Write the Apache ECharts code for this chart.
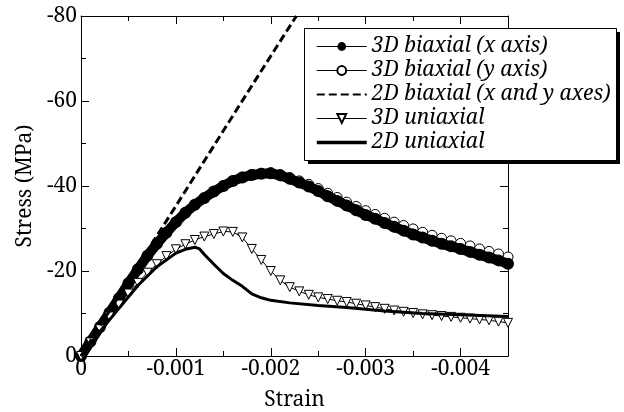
<!DOCTYPE html>
<html>
<head>
<meta charset="utf-8">
<script src="https://cdn.jsdelivr.net/npm/echarts@6/dist/echarts.min.js"></script>
<style>html,body{margin:0;padding:0;background:#fff}#c{width:624px;height:412px}</style>
</head>
<body>
<div id="c"></div>
<script>
// strain steps for 3D series (compressive, negative)
var strain3D = [0,-0.0001,-0.0002,-0.0003,-0.0004,-0.0005,-0.0006,-0.0007,-0.0008,-0.0009,
  -0.0010,-0.0011,-0.0012,-0.0013,-0.0014,-0.0015,-0.0016,-0.0017,-0.0018,-0.0019,
  -0.0020,-0.0021,-0.0022,-0.0023,-0.0024,-0.0025,-0.0026,-0.0027,-0.0028,-0.0029,
  -0.0030,-0.0031,-0.0032,-0.0033,-0.0034,-0.0035,-0.0036,-0.0037,-0.0038,-0.0039,
  -0.0040,-0.0041,-0.0042,-0.0043,-0.0044,-0.0045];
var biaxX3D = [0,-3.4,-6.8,-10.2,-13.6,-17.1,-20.4,-23.6,-26.4,-29.0,
  -31.5,-33.7,-35.6,-37.2,-38.7,-40.0,-41.2,-42.0,-42.6,-42.9,
  -43.0,-42.5,-41.7,-40.8,-39.9,-38.8,-37.6,-36.5,-35.4,-34.3,
  -33.2,-32.3,-31.3,-30.4,-29.5,-28.6,-27.9,-27.1,-26.4,-25.8,
  -25.2,-24.5,-23.8,-23.2,-22.5,-21.7];
var biaxY3D = [0,-3.4,-6.8,-10.2,-13.6,-17.1,-20.4,-23.6,-26.4,-29.0,
  -31.5,-33.7,-35.6,-37.2,-38.7,-40.0,-41.2,-42.1,-42.7,-43.0,
  -43.1,-42.7,-42.0,-41.2,-40.4,-39.4,-38.3,-37.3,-36.2,-35.2,
  -34.2,-33.3,-32.4,-31.5,-30.7,-29.9,-29.1,-28.4,-27.7,-27.1,
  -26.5,-25.9,-25.2,-24.6,-24.0,-23.3];
var uni3D = [0,-3.2,-6.3,-9.3,-12.1,-14.7,-17.2,-19.6,-21.6,-23.5,
  -25.1,-26.3,-27.3,-28.1,-28.7,-29.3,-29.2,-27.9,-25.2,-22.6,
  -20.0,-17.8,-16.2,-15.2,-14.4,-13.8,-13.4,-13.0,-12.7,-12.3,
  -11.9,-11.5,-11.1,-10.7,-10.4,-10.1,-9.8,-9.6,-9.4,-9.2,
  -9.0,-8.8,-8.6,-8.4,-8.1,-7.8];
var biax2DStrain = [0,-0.0005,-0.001,-0.0015,-0.002,-0.00227];
var biax2DStress = [0,-17.7,-35.3,-53.0,-70.6,-80.0];
var uni2DStrain = [0,-0.0002,-0.0004,-0.0006,-0.0008,-0.0010,-0.0011,-0.0012,-0.00125,-0.0013,
  -0.0014,-0.0015,-0.0016,-0.0017,-0.0018,-0.0019,-0.0020,-0.0022,-0.0025,-0.0028,
  -0.0032,-0.0036,-0.0040,-0.0045];
var uni2DStress = [0,-5.8,-11.2,-16.6,-21.0,-24.2,-25.1,-25.6,-25.2,-23.9,
  -21.6,-19.4,-17.8,-16.4,-14.6,-13.7,-13.1,-12.5,-11.9,-11.4,
  -10.6,-10.0,-9.7,-9.3];
var seriesNames = ['3D biaxial (x axis)','3D biaxial (y axis)','2D biaxial (x and y axes)','3D uniaxial','2D uniaxial'];
var xMajorTicks = [0,-0.001,-0.002,-0.003,-0.004];
var xMinorTicks = [-0.0005,-0.0015,-0.0025,-0.0035];

function zip(a,b){return a.map(function(v,i){return [v,b[i]];});}
var FONT = "'Noto Serif', 'DejaVu Serif', serif";
var FS = 21;
function xAx(pos, major, labels){
  return {
    type:'value', min:-0.0045, max:0, inverse:true, position:pos,
    splitLine:{show:false},
    axisLine:{show:major, onZero:false, lineStyle:{color:'#000', width:1}},
    axisTick:{show:true, inside:true, length: major?8:5, lineStyle:{color:'#000'},
      customValues: major?xMajorTicks:xMinorTicks},
    axisLabel:{show:labels, customValues:xMajorTicks, margin:3, color:'#000',
      fontFamily:FONT, fontSize:FS,
      formatter:function(v){return v===0?'0':v.toFixed(3);}},
    name: labels?'Strain':'', nameLocation:'middle', nameGap:34,
    nameTextStyle:{fontFamily:FONT, fontSize:FS, color:'#000'}
  };
}
function yAx(pos, labels){
  return {
    type:'value', min:-80, max:0, interval:20, inverse:true, position:pos,
    axisLine:{show:true, onZero:false, lineStyle:{color:'#000', width:1}},
    axisTick:{show:true, inside:true, length:8, lineStyle:{color:'#000'}},
    minorTick:{show:true, splitNumber:2, length:5, lineStyle:{color:'#000'}},
    splitLine:{show:false}, minorSplitLine:{show:false},
    axisLabel:{show:labels, margin:4, color:'#000', fontFamily:FONT, fontSize:FS,
      formatter:function(v){return String(v);}},
    name: labels?'Stress (MPa)':'', nameLocation:'middle', nameGap:45, nameRotate:90,
    nameTextStyle:{fontFamily:FONT, fontSize:FS, color:'#000'}
  };
}
var chart = echarts.init(document.getElementById('c'), null, {renderer:'canvas'});
chart.setOption({
  animation:false,
  backgroundColor:'#fff',
  grid:{left:81, right:116, top:16, bottom:56, containLabel:false, outerBoundsMode:'none'},
  xAxis:[xAx('bottom',true,true), xAx('top',true,false), xAx('bottom',false,false), xAx('top',false,false)],
  yAxis:[yAx('left',true), yAx('right',false)],
  graphic:[
    {type:'rect', z:10, shape:{x:308, y:32, width:312, height:132}, style:{fill:'#000'}, silent:true},
    {type:'rect', z:11, shape:{x:304.5, y:28.5, width:312, height:132}, style:{fill:'#fff', stroke:'#000', lineWidth:1}, silent:true}
  ],
  legend:{
    orient:'vertical', left:315, top:35, z:20,
    padding:0, itemGap:1, itemWidth:50, itemHeight:11,
    textStyle:{fontFamily:FONT, fontSize:FS, lineHeight:23, fontStyle:'italic', color:'#000'},
    data:[
      {name:seriesNames[0], lineStyle:{width:1}},
      {name:seriesNames[1], lineStyle:{width:1}},
      {name:seriesNames[2], itemStyle:{opacity:0}},
      {name:seriesNames[3], lineStyle:{width:1}},
      {name:seriesNames[4], itemStyle:{opacity:0}, lineStyle:{width:3.5}}
    ]
  },
  series:[
    {name:seriesNames[0], type:'line', z:3, data:zip(strain3D,biaxX3D),
      symbol:'circle', symbolSize:12, showAllSymbol:true,
      itemStyle:{color:'#000'}, lineStyle:{color:'#000', width:10}, emphasis:{disabled:true}},
    {name:seriesNames[1], type:'line', z:2, data:zip(strain3D,biaxY3D),
      symbol:'circle', symbolSize:10, showAllSymbol:true,
      itemStyle:{color:'#fff', borderColor:'#000', borderWidth:1},
      lineStyle:{color:'#000', width:1}, emphasis:{disabled:true}},
    {name:seriesNames[2], type:'line', z:6, data:zip(biax2DStrain,biax2DStress),
      symbol:'none', itemStyle:{color:'#000'},
      lineStyle:{color:'#000', width:3, type:[8,4]}, emphasis:{disabled:true}},
    {name:seriesNames[3], type:'line', z:4, data:zip(strain3D,uni3D),
      symbol:'triangle', symbolRotate:180, symbolSize:9, showAllSymbol:true,
      itemStyle:{color:'#fff', borderColor:'#000', borderWidth:1},
      lineStyle:{color:'#000', width:1}, emphasis:{disabled:true}},
    {name:seriesNames[4], type:'line', z:5, data:zip(uni2DStrain,uni2DStress),
      symbol:'none', itemStyle:{color:'#000'},
      lineStyle:{color:'#000', width:3}, emphasis:{disabled:true}}
  ]
});
</script>
</body>
</html>
